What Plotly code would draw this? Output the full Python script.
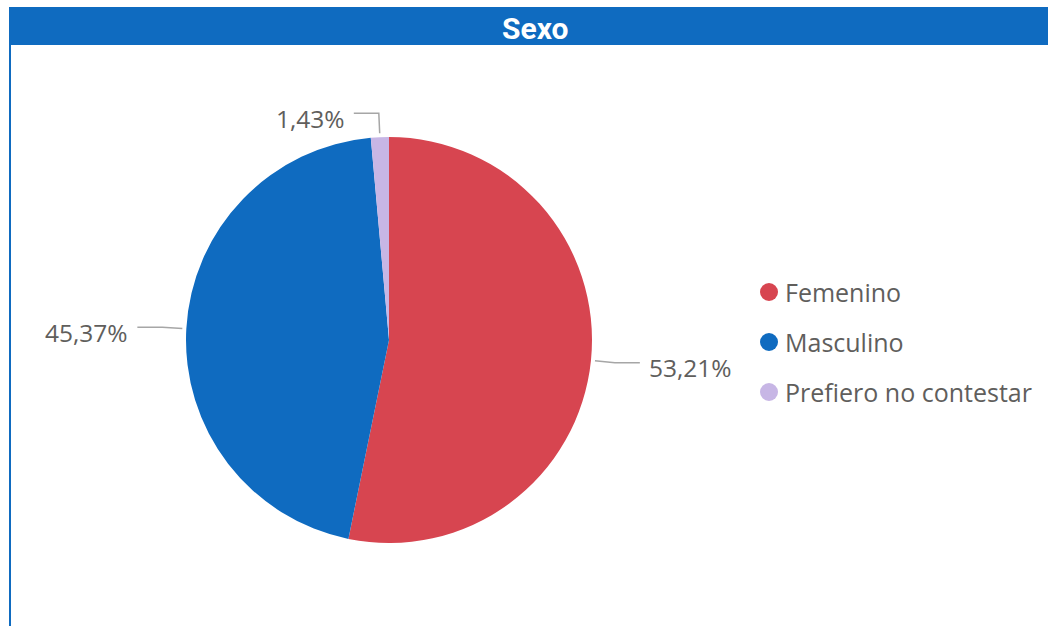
import math
import plotly.graph_objects as go

labels = ["Femenino", "Masculino", "Prefiero no contestar"]
values = [53.21, 45.37, 1.43]
colors = ["#D74550", "#0F6BC0", "#C7B6E5"]
title_text = "Sexo"

W, H = 1048, 626
cx, cy, r = 389, 340, 203
text_color = "#605E5C"
line_color = "#A6A6A6"


def px(x):
    return x / W


def py(y):
    return 1 - y / H


fig = go.Figure(
    go.Pie(
        labels=labels,
        values=values,
        marker=dict(colors=colors, line=dict(width=0)),
        sort=False,
        direction="clockwise",
        rotation=0,
        textinfo="none",
        showlegend=False,
        domain=dict(x=[px(cx - r), px(cx + r)], y=[py(cy + r), py(cy - r)]),
    )
)

shapes = []
annotations = []

# title bar and left border
shapes.append(dict(type="rect", xref="paper", yref="paper",
                   x0=px(9), x1=1, y0=py(45), y1=py(7),
                   fillcolor="#0F6BC0", line=dict(width=0), layer="below"))
shapes.append(dict(type="line", xref="paper", yref="paper",
                   x0=px(10), x1=px(10), y0=0, y1=py(45),
                   line=dict(color="#0F6BC0", width=2)))
annotations.append(dict(text="<b>" + title_text + "</b>", x=px(535), y=py(28),
                        xref="paper", yref="paper", showarrow=False,
                        xanchor="center", yanchor="middle",
                        font=dict(family="Roboto", size=30, color="white")))

# outside labels with leader lines
total = sum(values)
cum = 0
for v in values:
    mid = (cum + v / 2) / total
    cum += v
    a = 2 * math.pi * mid
    dx, dy = math.sin(a), -math.cos(a)
    x0, y0 = cx + (r + 4) * dx, cy + (r + 4) * dy
    x1, y1 = cx + (r + 24) * dx, cy + (r + 24) * dy
    s = 1 if dx >= 0 else -1
    x2, y2 = x1 + 25 * s, y1
    shapes.append(dict(type="path", xref="paper", yref="paper",
                       path=f"M {px(x0)} {py(y0)} L {px(x1)} {py(y1)} L {px(x2)} {py(y2)}",
                       line=dict(color=line_color, width=1.5)))
    annotations.append(dict(text=f"{v:.2f}".replace(".", ",") + "%",
                            x=px(x2 + 7 * s), y=py(y2 + 5),
                            xref="paper", yref="paper", showarrow=False,
                            xanchor="left" if s > 0 else "right", yanchor="middle",
                            font=dict(family="Open Sans", size=24.5, color=text_color)))

# legend
for i, (lab, col) in enumerate(zip(labels, colors)):
    ly = 292 + 50 * i
    shapes.append(dict(type="circle", xref="paper", yref="paper",
                       x0=px(760), x1=px(778), y0=py(ly + 9), y1=py(ly - 9),
                       fillcolor=col, line=dict(width=0)))
    annotations.append(dict(text=lab, x=px(783), y=py(ly),
                            xref="paper", yref="paper", showarrow=False,
                            xanchor="left", yanchor="middle",
                            font=dict(family="Open Sans", size=25, color=text_color)))

fig.update_layout(
    width=W,
    height=H,
    margin=dict(l=0, r=0, t=0, b=0),
    paper_bgcolor="white",
    plot_bgcolor="white",
    shapes=shapes,
    annotations=annotations,
)

# drop the default page margin so the figure fills the window
fig.write_html("out.html", config={"displayModeBar": False},
               post_script="document.body.style.margin='0';")
